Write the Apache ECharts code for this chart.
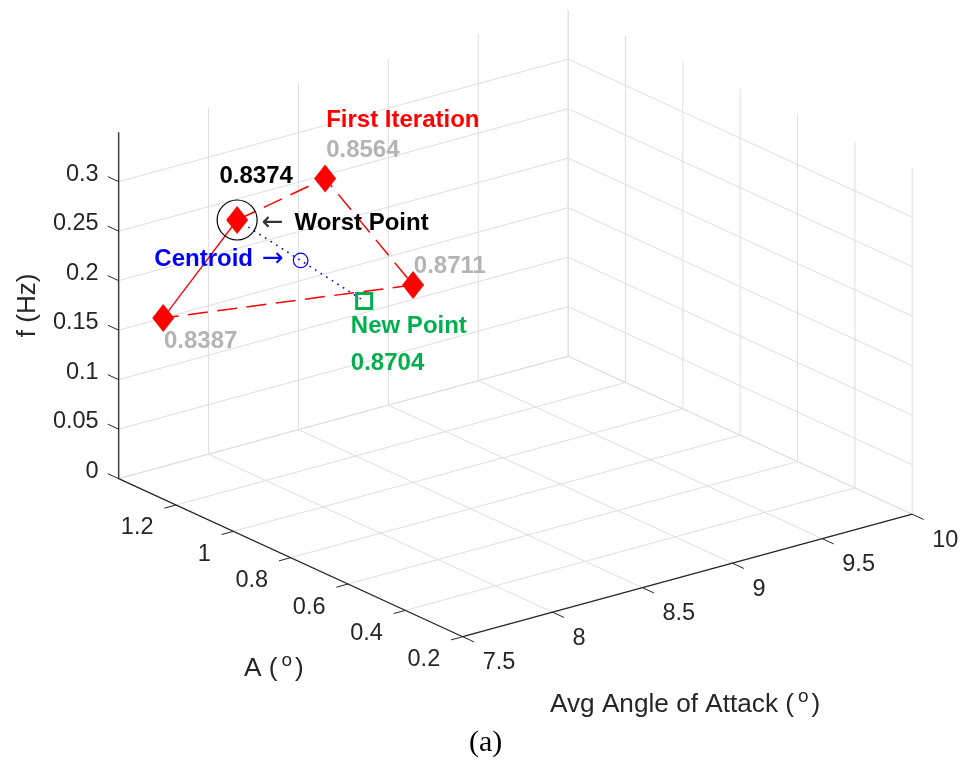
<!DOCTYPE html>
<html>
<head>
<meta charset="utf-8">
<style>html,body{margin:0;padding:0;background:#fff}#c{width:961px;height:760px}</style>
<script src="https://cdn.jsdelivr.net/npm/echarts@6/dist/echarts.min.js"></script>
</head>
<body>
<div id="c"></div>
<script>
// ---- data ----
var fTicks = [0, 0.05, 0.1, 0.15, 0.2, 0.25, 0.3];
var fTickLabels = ['0', '0.05', '0.1', '0.15', '0.2', '0.25', '0.3'];
var aTicks = [0.2, 0.4, 0.6, 0.8, 1, 1.2];
var aTickLabels = ['0.2', '0.4', '0.6', '0.8', '1', '1.2'];
var aoaTicks = [7.5, 8, 8.5, 9, 9.5, 10];
var aoaTickLabels = ['7.5', '8', '8.5', '9', '9.5', '10'];
var aLimits = [0.2, 1.4];
var aoaLimits = [7.5, 10];
var fLimits = [0, 0.35];
// each point: [A, AoA, f]
var worstPoint = [1.205, 7.848, 0.27];
var topPoint = [1.10, 8.17, 0.31];
var rightPoint = [0.95, 8.42, 0.21];
var leftPoint = [1.353, 7.673, 0.16];
var centroidPoint = [1.134, 8.088, 0.2267];
var newPoint = [1.063, 8.328, 0.1833];
var worstValue = '0.8374', topValue = '0.8564', rightValue = '0.8711', leftValue = '0.8387', newValue = '0.8704';

// ---- fixed 3D view of the axes box, mapped to a plane ----
function project(p) {
  var dA = p[0] - 0.2, dB = p[1] - 7.5;
  return [462.7 - dA * 286.7 + dB * 179.8, 636.7 - dA * 131.7 - dB * 49 - p[2] * 990];
}
function segs(list) {
  var out = [];
  list.forEach(function (s) { out.push(project(s[0]), project(s[1]), ['-', '-']); });
  return out;
}
var A0 = aLimits[0], A1 = aLimits[1], B0 = aoaLimits[0], B1 = aoaLimits[1], F1 = fLimits[1];
var gridSegs = [];
fTicks.forEach(function (f) {
  gridSegs.push([[A1, B0, f], [A1, B1, f]]);
  gridSegs.push([[A1, B1, f], [A0, B1, f]]);
});
aoaTicks.forEach(function (b) {
  gridSegs.push([[A0, b, 0], [A1, b, 0]]);
  if (b > B0) gridSegs.push([[A1, b, 0], [A1, b, F1]]);
});
aTicks.concat([A1]).forEach(function (a) {
  gridSegs.push([[a, B0, 0], [a, B1, 0]]);
  gridSegs.push([[a, B1, 0], [a, B1, F1]]);
});
var axisSegs = [[[A1, B0, 0], [A0, B0, 0]], [[A0, B0, 0], [A0, B1, 0]]];
var tickSegs = [];
fTicks.forEach(function (f) { tickSegs.push([[A1, B0, f], [A1 + 0.038, B0, f]]); });
aTicks.forEach(function (a) { tickSegs.push([[a, B0, 0], [a, B0 - 0.065, 0]]); });
aoaTicks.forEach(function (b) { tickSegs.push([[A0, b, 0], [A0 - 0.04, b, 0]]); });

function lineSeries(data, color, width, type, z) {
  return { type: 'line', data: data, symbol: 'none', silent: true, z: z, connectNulls: false,
    lineStyle: { color: color, width: width, type: type || 'solid' } };
}
var SANS = '"Liberation Sans", Arial, sans-serif';
var OPAQUE = { opacity: 1 };
function tickSeries(pts, labels, position, offset) {
  return { type: 'scatter', symbolSize: 0, silent: true, z: 5, itemStyle: OPAQUE,
    data: pts.map(function (p, i) {
      return { value: project(p), label: { show: true, formatter: labels[i], position: position, distance: 0, offset: offset,
        color: '#262626', fontFamily: SANS, fontSize: 23.5 } };
    }) };
}
function note(point, text, offset, color, extra) {
  var label = { show: true, formatter: text, position: 'right', distance: 0, offset: offset,
    color: color, fontFamily: SANS, fontSize: 24, fontWeight: 'bold' };
  for (var k in (extra || {})) label[k] = extra[k];
  return { value: project(point), label: label };
}
var supStyle = { fontFamily: SANS, fontSize: 19, color: '#262626', padding: [0, 3, 15, 4] };
var titleStyle = { fontFamily: SANS, fontSize: 26.2, color: '#262626' };
var RED = '#ff0000', BLUE = '#0000ff', GREEN = '#00b04f', GRAY = '#b4b4b4';
var ARROW_FONT = '"DejaVu Sans", sans-serif';
var DIAMOND = 'path://M10 0L20 13.5L10 27L0 13.5Z';

var series = [
  lineSeries(segs(gridSegs), '#dedede', 1, null, 1),
  lineSeries(segs(axisSegs), '#262626', 1.2, null, 2),
  lineSeries(segs([[[A1, B0, 0], [A1, B0, F1]]]), '#404040', 1.5, null, 2),
  lineSeries(segs(tickSegs), '#262626', 1, null, 2),
  lineSeries([project(leftPoint), project(worstPoint)], RED, 1.3, null, 3),
  lineSeries([project(worstPoint), project(topPoint), project(rightPoint), project(leftPoint)], RED, 1.5, [20, 9.5], 3),
  lineSeries([project(worstPoint), project(centroidPoint), project(newPoint)], BLUE, 1.6, [1.6, 5], 3),
  tickSeries(fTicks.map(function (f) { return [A1, B0, f]; }), fTickLabels, 'left', [-20, -7.5]),
  tickSeries(aTicks.map(function (a) { return [a, B0, 0]; }), aTickLabels, 'left', [-22.5, 23]),
  tickSeries(aoaTicks.map(function (b) { return [A0, b, 0]; }), aoaTickLabels, 'right', [20, 26]),
  { type: 'scatter', silent: true, z: 6, symbol: 'circle', symbolSize: 40,
    itemStyle: { opacity: 1, color: 'transparent', borderColor: '#000', borderWidth: 1.2 }, data: [project(worstPoint)] },
  { type: 'scatter', silent: true, z: 7, symbol: DIAMOND, symbolSize: [22, 28], itemStyle: { opacity: 1, color: RED },
    data: [worstPoint, topPoint, rightPoint, leftPoint].map(project) },
  { type: 'scatter', silent: true, z: 7, symbol: 'circle', symbolSize: 14.5,
    itemStyle: { opacity: 1, color: 'transparent', borderColor: BLUE, borderWidth: 1.2 }, data: [project(centroidPoint)] },
  { type: 'scatter', silent: true, z: 7, symbol: 'rect', symbolSize: 15,
    itemStyle: { opacity: 1, color: 'transparent', borderColor: GREEN, borderWidth: 3 }, data: [project(newPoint)] },
  { type: 'scatter', symbolSize: 0, silent: true, z: 8, itemStyle: OPAQUE, data: [
    note(topPoint, 'First Iteration', [1, -57.7], RED),
    note(topPoint, topValue, [1, -27.7], GRAY),
    note(worstPoint, worstValue, [-17.7, -43.6], '#000'),
    note(worstPoint, '{arrow|\u2190}{text|Worst Point}', [24.7, 3.4], '#000', { rich: {
      arrow: { fontFamily: ARROW_FONT, fontSize: 26, fontWeight: 'normal', color: '#333', padding: [0, 10.8, 0, 0] },
      text: { fontFamily: SANS, fontSize: 24, fontWeight: 'bold', color: '#000' } } }),
    note(centroidPoint, '{text|Centroid}{arrow|\u2192}', [-146.3, -1], BLUE, { rich: {
      arrow: { fontFamily: ARROW_FONT, fontSize: 26, fontWeight: 'normal', color: BLUE, padding: [0, 0, 0, 9] },
      text: { fontFamily: SANS, fontSize: 24, fontWeight: 'bold', color: BLUE } } }),
    note(rightPoint, rightValue, [0.7, -18.3], GRAY),
    note(newPoint, 'New Point', [-13.3, 25.7], GREEN),
    note(newPoint, newValue, [-13.3, 62.4], GREEN),
    note(leftPoint, leftValue, [0.7, 23.4], GRAY)
  ] },
  { type: 'scatter', symbolSize: 0, silent: true, z: 8, itemStyle: OPAQUE, data: [
    { value: project([0.8, B0, 0]), label: { show: true, position: 'right', distance: 0, offset: [-46.7, 111],
      formatter: '{t|A (}{s|o}{t|)}', rich: { t: titleStyle, s: supStyle } } },
    { value: project([A0, 8.75, 0]), label: { show: true, position: 'right', distance: 0, offset: [-137.5, 129],
      formatter: '{t|Avg Angle of Attack (}{s|o}{t|)}', rich: { t: titleStyle, s: supStyle } } },
    { value: project([A1, B0, 0.175]), label: { show: true, position: 'inside', offset: [0, -91], rotate: 90,
      formatter: 'f (Hz)', color: '#262626', fontFamily: SANS, fontSize: 26 } }
  ] }
];

var chart = echarts.init(document.getElementById('c'), null, { renderer: 'canvas' });
chart.setOption({
  animation: false,
  backgroundColor: '#fff',
  title: { text: '(a)', left: 469, top: 728, padding: 0,
    textStyle: { fontFamily: '"Liberation Serif", "Times New Roman", serif', fontSize: 30, fontWeight: 'normal', color: '#000' } },
  grid: { left: 0, right: 0, top: 0, bottom: 0 },
  xAxis: { type: 'value', min: 0, max: 961, show: false },
  yAxis: { type: 'value', min: 0, max: 760, inverse: true, show: false },
  series: series
});
</script>
</body>
</html>
